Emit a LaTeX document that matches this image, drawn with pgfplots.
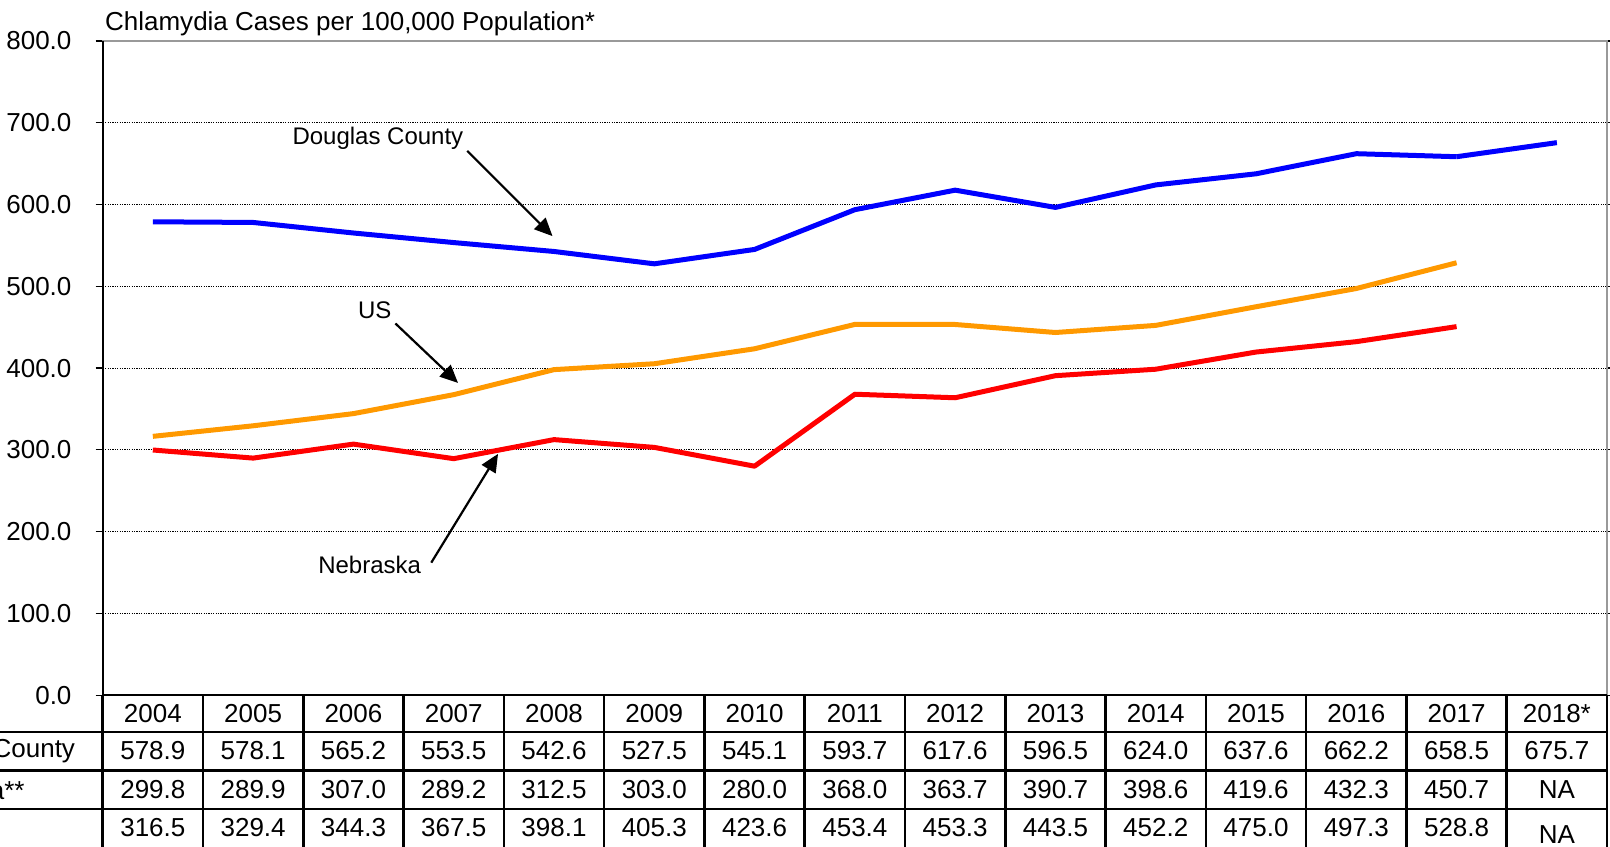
\documentclass[border=0pt]{standalone}
\usepackage{pgfplots}
\pgfplotsset{compat=1.18}
\usepackage{pgfplotstable}
\usepackage{fontspec}
\setmainfont{Liberation Sans}
\usetikzlibrary{arrows.meta}

\definecolor{dcblue}{RGB}{0,0,255}
\definecolor{usorange}{RGB}{255,153,0}
\definecolor{nered}{RGB}{255,0,0}

% i = column index (2004 = 0)
\pgfplotstableread{
i  dc     ne     us
0  578.9  299.8  316.5
1  578.1  289.9  329.4
2  565.2  307.0  344.3
3  553.5  289.2  367.5
4  542.6  312.5  398.1
5  527.5  303.0  405.3
6  545.1  280.0  423.6
7  593.7  368.0  453.4
8  617.6  363.7  453.3
9  596.5  390.7  443.5
10 624.0  398.6  452.2
11 637.6  419.6  475.0
12 662.2  432.3  497.3
13 658.5  450.7  528.8
}\rates

\begin{document}
\begin{tikzpicture}[font=\fontsize{13}{15}\selectfont]
\begin{axis}[
    at={(0,0)}, anchor=south west,
    scale only axis,
    width=752pt, height=327pt,
    xmin=-0.5, xmax=14.5,
    ymin=0, ymax=800,
    xtick=\empty,
    ytick={0,100,...,800},
    yticklabel={\pgfmathprintnumber[fixed,fixed zerofill,precision=1]{\tick}},
    /pgf/number format/assume math mode=true,
    yticklabel style={xshift=-8.5pt},
    tick align=outside,
    major tick length=3.6pt,
    tick style={black, line width=0.6pt},
    ymajorgrids,
    grid style={black, line width=0.4pt, dash pattern=on 0.6pt off 0.6pt},
    axis line style={gray!80, line width=1pt},
    clip=false,
]
\addplot[dcblue, line width=2.5pt, line join=round] table[x=i, y=dc] {\rates};
\addplot[dcblue, line width=2.5pt, line join=round, forget plot] coordinates {(13,658.5) (14,675.7)};
\addplot[usorange, line width=2.5pt, line join=round] table[x=i, y=us] {\rates};
\addplot[nered, line width=2.5pt, line join=round] table[x=i, y=ne] {\rates};

\draw[black, line width=1pt] (axis cs:-0.5,0) -- (axis cs:-0.5,800);

\node[font=\fontsize{12}{14}\selectfont] at (axis cs:2.244,680.7) {Douglas County};
\draw[line width=1.1pt, -{Triangle[length=9pt,width=8pt]}] (axis cs:3.135,665.6) -- (axis cs:3.985,561.4);
\node[font=\fontsize{12}{14}\selectfont] at (axis cs:2.213,470.9) {US};
\draw[line width=1.1pt, -{Triangle[length=9pt,width=8pt]}] (axis cs:2.418,454.6) -- (axis cs:3.043,381.8);
\node[font=\fontsize{12}{14}\selectfont] at (axis cs:2.162,159.5) {Nebraska};
\draw[line width=1.1pt, -{Triangle[length=9pt,width=8pt]}] (axis cs:2.776,162.0) -- (axis cs:3.442,295.1);
\end{axis}

% data table under the axis (column width 752/15 pt)
\def\cw{50.1333}
\draw[black, line width=1.3pt] (0,0) -- (752pt,0);
\foreach \r in {18.5,37.6,57.0}
  \draw[black, line width=1.3pt] (-60pt,-\r pt) -- (752pt,-\r pt);
\foreach \k in {0,...,15}
  \draw[black, line width=1.3pt] (\k*\cw pt,0) -- (\k*\cw pt,-80pt);

\foreach \y [count=\k from 0] in {2004,2005,2006,2007,2008,2009,2010,2011,2012,2013,2014,2015,2016,2017,2018*}
  \node at ({(\k+0.5)*\cw pt},-9.3pt) {\y};
\foreach \v [count=\k from 0] in {578.9,578.1,565.2,553.5,542.6,527.5,545.1,593.7,617.6,596.5,624.0,637.6,662.2,658.5,675.7}
  \node at ({(\k+0.5)*\cw pt},-27.8pt) {\v};
\foreach \v [count=\k from 0] in {299.8,289.9,307.0,289.2,312.5,303.0,280.0,368.0,363.7,390.7,398.6,419.6,432.3,450.7,NA}
  \node at ({(\k+0.5)*\cw pt},-47.3pt) {\v};
\foreach \v [count=\k from 0] in {316.5,329.4,344.3,367.5,398.1,405.3,423.6,453.4,453.3,443.5,452.2,475.0,497.3,528.8}
  \node at ({(\k+0.5)*\cw pt},-66.3pt) {\v};
\node at ({14.5*\cw pt},-69.9pt) {NA};

\node[anchor=east] at (-10.3pt,-27.8pt) {Douglas County};
\node[anchor=east] at (-35.5pt,-47.3pt) {Nebraska**};
\node[anchor=east] at (-10.3pt,-66.3pt) {\rlap{US}\phantom{Douglas County}};

\node[anchor=base west, inner sep=0pt] at (1pt,332.1pt) {Chlamydia Cases per 100,000 Population*};

\pgfresetboundingbox
\path (-51.35pt,-75.5pt) rectangle (753.5pt,347.5pt);
\end{tikzpicture}
\end{document}
